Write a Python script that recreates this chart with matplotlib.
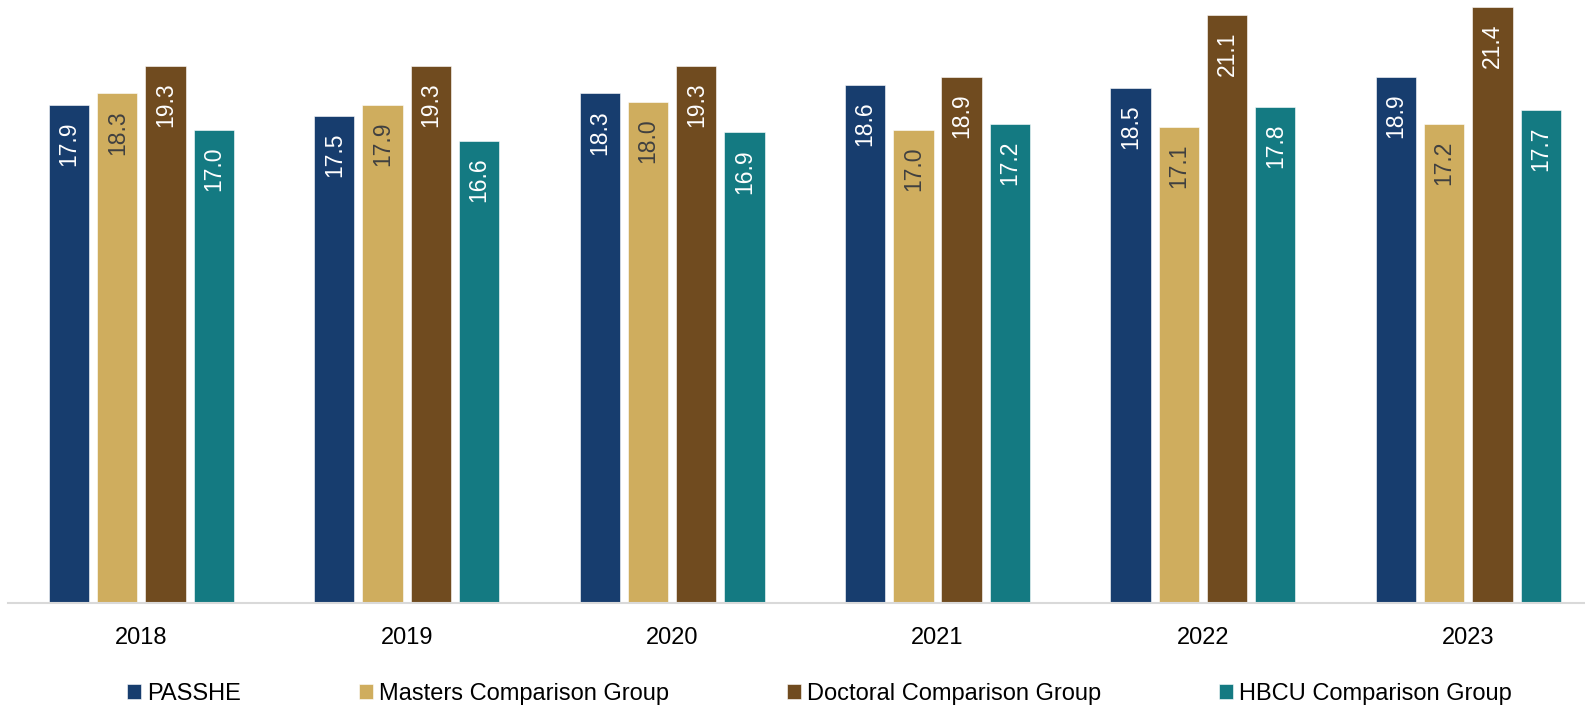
import numpy as np
import matplotlib
matplotlib.use('Agg')
import matplotlib.pyplot as plt

plt.rcParams['font.family'] = ['Liberation Sans', 'DejaVu Sans']

# data
anos = ['2018', '2019', '2020', '2021', '2022', '2023']
series = ['PASSHE', 'Masters Comparison Group', 'Doctoral Comparison Group', 'HBCU Comparison Group']
passhe = [17.9, 17.5, 18.3, 18.6, 18.5, 18.9]
masters = [18.3, 17.9, 18.0, 17.0, 17.1, 17.2]
doctoral = [19.3, 19.3, 19.3, 18.9, 21.1, 21.4]
hbcu = [17.0, 16.6, 16.9, 17.2, 17.8, 17.7]

cores = ['#173D6E', '#CFAD5E', '#704B1F', '#147A82']
cor_texto = ['white', '#404040', 'white', 'white']

fig = plt.figure(figsize=(15.85, 7.07), dpi=100)
ax = fig.add_axes([0.005, 0.1464, 0.995, 0.8536])

x = np.arange(len(anos))
passo = 0.182
largura = 0.152
valores = [passhe, masters, doctoral, hbcu]

for i, (nome, vals) in enumerate(zip(series, valores)):
    pos = x + (i - 1.5) * passo
    ax.bar(pos, vals, width=largura, color=cores[i], label=nome,
           edgecolor='#ffffff', linewidth=0.4)
    for p, v in zip(pos, vals):
        ax.annotate(f'{v:.1f}', (p, v), xytext=(0, -12), textcoords='offset points',
                    rotation=90, ha='center', va='top', fontsize=16.5,
                    color=cor_texto[i])

ax.set_xlim(-0.503, 5.44)
ax.set_ylim(0, 21.65)
ax.set_xticks(x)
ax.set_xticklabels(anos, fontsize=17)
ax.tick_params(axis='x', length=0, pad=17)
ax.set_yticks([])
for s in ['top', 'right', 'left']:
    ax.spines[s].set_visible(False)
ax.spines['bottom'].set_color('#D9D9D9')
ax.spines['bottom'].set_linewidth(1.5)

fig.legend(loc='center', bbox_to_anchor=(0.517, 0.019), ncol=4, frameon=False,
           fontsize=17, handlelength=0.6, handleheight=0.6, handletextpad=0.25,
           columnspacing=5.0, borderpad=0)

fig.savefig('out.png', dpi=100)
